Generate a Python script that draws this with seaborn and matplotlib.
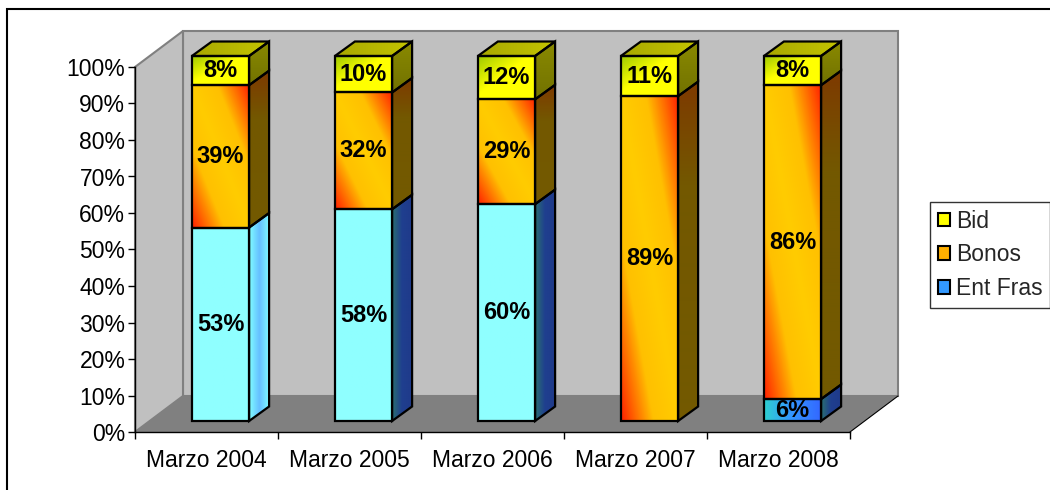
import numpy as np
import pandas as pd
import matplotlib
matplotlib.use("Agg")
import matplotlib.pyplot as plt
import seaborn as sns
from matplotlib.patches import Polygon, Rectangle, Patch
from matplotlib.colors import LinearSegmentedColormap

# datos
periodos = ["Marzo 2004", "Marzo 2005", "Marzo 2006", "Marzo 2007", "Marzo 2008"]
ent_fras = [53, 58, 60, 0, 6]
bonos = [39, 32, 29, 89, 86]
bid = [8, 10, 12, 11, 8]
series = ["Ent Fras", "Bonos", "Bid"]
yticks = list(range(0, 101, 10))

sns.set_theme(style="ticks")
plt.rcParams["font.family"] = ["Liberation Sans", "DejaVu Sans"]

df = pd.DataFrame({"Periodo": periodos, "Ent Fras": ent_fras, "Bonos": bonos, "Bid": bid})
pct = df[series].div(df[series].sum(axis=1), axis=0) * 100

W, H = 1050, 490
fig = plt.figure(figsize=(W / 100, H / 100), dpi=100)
ax = fig.add_axes([135 / W, (H - 432) / H, 715 / W, 365 / H])
ax2 = fig.add_axes([149 / W, (H - 421) / H, 715 / W, 365 / H])
PX, PY = 715 / 5, 365 / 100  # pixels per data unit


def gradient(axis, clip, ext, stops, mode, z=2):
    g = np.linspace(0, 1, 80)
    U, V = np.meshgrid(g, g)
    t = {"diag": (U + V) / 2, "anti": (U + 1 - V) / 2, "h": U, "v": V}[mode]
    cmap = LinearSegmentedColormap.from_list("g", stops)
    im = axis.imshow(t, cmap=cmap, vmin=0, vmax=1, extent=ext, origin="lower",
                     aspect="auto", interpolation="bilinear", zorder=z)
    im.set_clip_path(clip)
    im.set_clip_box(fig.bbox)


# paredes y suelo (efecto 3D)
wx, wy = 48 / PX, 36 / PY
x0, x1 = -0.5, 4.5
ax.add_patch(Polygon([(x0 + wx, wy), (x1 + wx, wy), (x1 + wx, 100 + wy), (x0 + wx, 100 + wy)],
                     fc="#C0C0C0", ec="#808080", lw=1.5, clip_on=False, zorder=0))
ax.add_patch(Polygon([(x0, 0), (x0 + wx, wy), (x0 + wx, 100 + wy), (x0, 100)],
                     fc="#C0C0C0", ec="#808080", lw=1.5, clip_on=False, zorder=0))
ax.add_patch(Polygon([(x0, 0), (x1, 0), (x1 + wx, wy), (x0 + wx, wy)],
                     fc="#808080", ec="none", clip_on=False, zorder=0.5))
ax.plot([x1, x1 + wx], [0, wy], color="black", lw=0.8, clip_on=False, zorder=0.6)

# barras apiladas
base = np.zeros(len(periodos))
for name in series:
    sns.barplot(x=df["Periodo"], y=pct[name], bottom=base, order=periodos, width=0.4,
                color="white", saturation=1, errorbar=None, edgecolor="black",
                linewidth=1.6, ax=ax2, zorder=3)
    base = base + pct[name].values

front = {
    "Ent Fras": [["#8FFFFF", "#8FFFFF"]] * 4 + [[(0, "#2FD0D0"), (0.45, "#3399FF"), (1, "#3366FF")]],
    "Bonos": [[(0, "#FF2200"), (0.28, "#FFC000"), (0.5, "#FFCC00"), (0.72, "#FFC000"), (1, "#FF2200")]] * 5,
    "Bid": [[(0, "#9CC800"), (0.45, "#FFFF00"), (1, "#FFFF00")]] * 5,
}
front_mode = {"Ent Fras": "h", "Bonos": "diag", "Bid": "anti"}
dark_blue = [(0, "#2A7070"), (0.5, "#1F3F8F"), (1, "#1F3A8A")]
side = {
    "Ent Fras": [[(0, "#80FFFF"), (0.5, "#66BFFF"), (1, "#80FFFF")]] + [dark_blue] * 4,
    "Bonos": [[(0, "#735A00"), (0.7, "#735800"), (1, "#7E3A00")]] * 5,
    "Bid": [["#727200", "#8A8A00"]] * 5,
}
side_mode = {"Ent Fras": "h", "Bonos": "v", "Bid": "v"}
raw = {"Ent Fras": ent_fras, "Bonos": bonos, "Bid": bid}

dx, dy = 20 / PX, 14.5 / PY
n = len(periodos)
for k, name in enumerate(series):
    for i, p in enumerate(ax2.patches[k * n:(k + 1) * n]):
        p.set_facecolor("none")
        p.set_clip_on(False)
        x, y, w, h = p.get_x(), p.get_y(), p.get_width(), p.get_height()
        if h <= 0:
            p.set_visible(False)
            continue
        gradient(ax2, p, (x, x + w, y, y + h), front[name][i], front_mode[name])
        s = Polygon([(x + w, y), (x + w + dx, y + dy), (x + w + dx, y + h + dy), (x + w, y + h)],
                    fc="none", ec="black", lw=1.6, clip_on=False, zorder=4)
        ax2.add_patch(s)
        gradient(ax2, s, (x + w, x + w + dx, y, y + h + dy), side[name][i], side_mode[name])
        if name == "Bid":
            t = Polygon([(x, y + h), (x + dx, y + h + dy), (x + w + dx, y + h + dy), (x + w, y + h)],
                        fc="none", ec="black", lw=1.6, clip_on=False, zorder=4)
            ax2.add_patch(t)
            gradient(ax2, t, (x, x + w + dx, y + h, y + h + dy), ["#A8A800", "#C4C400"], "h")
        ax2.text(x + w / 2, y + h / 2, f"{raw[name][i]}%", ha="center", va="center",
                 fontsize=17, fontweight="bold", color="black", zorder=6)

ax2.set_xlim(-0.5, 4.5)
ax2.set_ylim(0, 100)
ax2.set_axis_off()

# ejes
ax.set_facecolor("none")
ax.set_xlim(-0.5, 4.5)
ax.set_ylim(0, 100)
ax.set_xticks(range(n), periodos)
ax.set_xticks(np.arange(-0.5, n, 1), minor=True)
ax.set_yticks(yticks, [f"{v}%" for v in yticks])
ax.tick_params(axis="x", which="major", length=0, pad=12, labelsize=16.5, colors="black")
ax.tick_params(axis="x", which="minor", length=5, width=1, color="black", bottom=True)
ax.tick_params(axis="y", length=5, width=1, pad=2, labelsize=16.5, colors="black", left=True)
ax.tick_params(axis="y", which="minor", left=False)
for sp in ["top", "right"]:
    ax.spines[sp].set_visible(False)
for sp in ["left", "bottom"]:
    ax.spines[sp].set_color("black")
    ax.spines[sp].set_linewidth(1)
    ax.spines[sp].set_zorder(3)
ax.set_xlabel("")
ax.set_ylabel("")

handles = [Patch(fc="#FFFF00", ec="black", lw=1.5, label="Bid"),
           Patch(fc="#FFB000", ec="black", lw=1.5, label="Bonos"),
           Patch(fc="#3399FF", ec="black", lw=1.5, label="Ent Fras")]
leg = fig.legend(handles=handles, loc="upper left", bbox_to_anchor=(930 / W, 1 - 202 / H),
                 frameon=True, fancybox=False, fontsize=16.5, handlelength=0.55,
                 handleheight=0.55, handletextpad=0.25, borderpad=0.33, labelspacing=0.47,
                 borderaxespad=0)
leg.get_frame().set_edgecolor("black")
leg.get_frame().set_linewidth(1)

fig.add_artist(Rectangle((7 / W, -0.1), 1.2, 1 - 9 / H + 0.1, transform=fig.transFigure,
                         fill=False, ec="black", lw=1.5))

fig.savefig("out.png", dpi=100)
